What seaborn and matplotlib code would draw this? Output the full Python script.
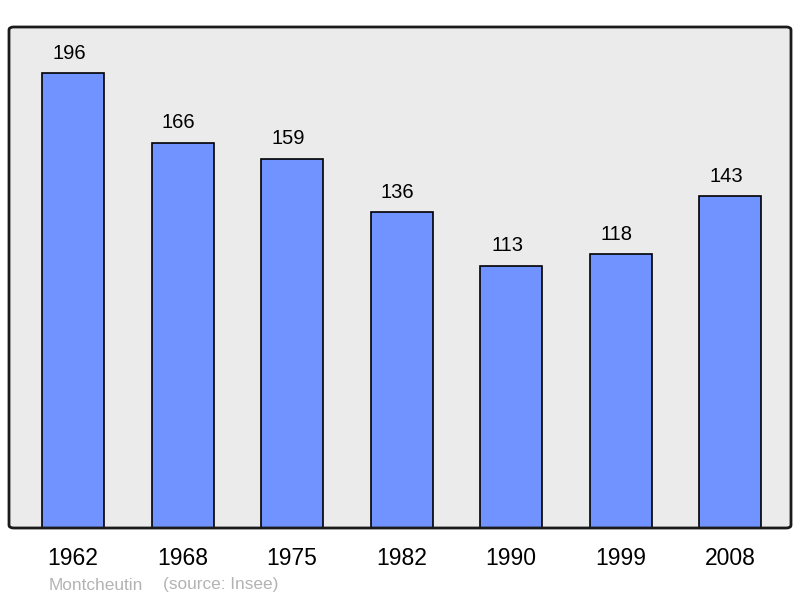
import matplotlib
matplotlib.use("Agg")
import matplotlib.pyplot as plt
import seaborn as sns
import pandas as pd
from matplotlib.patches import FancyBboxPatch

years = ["1962", "1968", "1975", "1982", "1990", "1999", "2008"]
population = [196, 166, 159, 136, 113, 118, 143]
commune = "Montcheutin"
source = "(source: Insee)"

sns.set_theme(style="white")
plt.rcParams["font.family"] = ["Liberation Sans", "DejaVu Sans"]

df = pd.DataFrame({"year": years, "pop": population})

fig = plt.figure(figsize=(8, 5.98), dpi=100)
ax = fig.add_axes([9 / 800, 70 / 598, 782 / 800, 501 / 598])
ax.set_facecolor("#ebebeb")

sns.barplot(data=df, x="year", y="pop", color="#7093ff", saturation=1,
            width=0.566, edgecolor="black", linewidth=1.2, ax=ax, zorder=2)

# value labels sit a little left of the bar centre, as in the original
for i, v in enumerate(population):
    ax.text(i - 0.035, v + 6.2, str(v), ha="center", va="baseline",
            fontsize=14.5, color="black")

ax.set_xlim(-0.585, 6.555)
ax.set_ylim(0, 215.8)
ax.set_xlabel("")
ax.set_ylabel("")
ax.set_yticks([])
ax.tick_params(axis="x", length=0, labelsize=16.5, pad=14, colors="black")
for s in ax.spines.values():
    s.set_visible(False)

frame = FancyBboxPatch((0, 0), 1, 1, boxstyle="round,pad=0,rounding_size=0.006",
                       transform=ax.transAxes, facecolor="none", edgecolor="#1a1a1a",
                       linewidth=2, clip_on=False, zorder=5)
ax.add_patch(frame)

fig.text(49 / 800, 1 - 585 / 598, commune, fontsize=12.4, color="#b3b3b3", va="center")
fig.text(163 / 800, 1 - 585 / 598, source, fontsize=12.4, color="#b3b3b3", va="center")

fig.savefig("out.png", dpi=100, facecolor="white")
